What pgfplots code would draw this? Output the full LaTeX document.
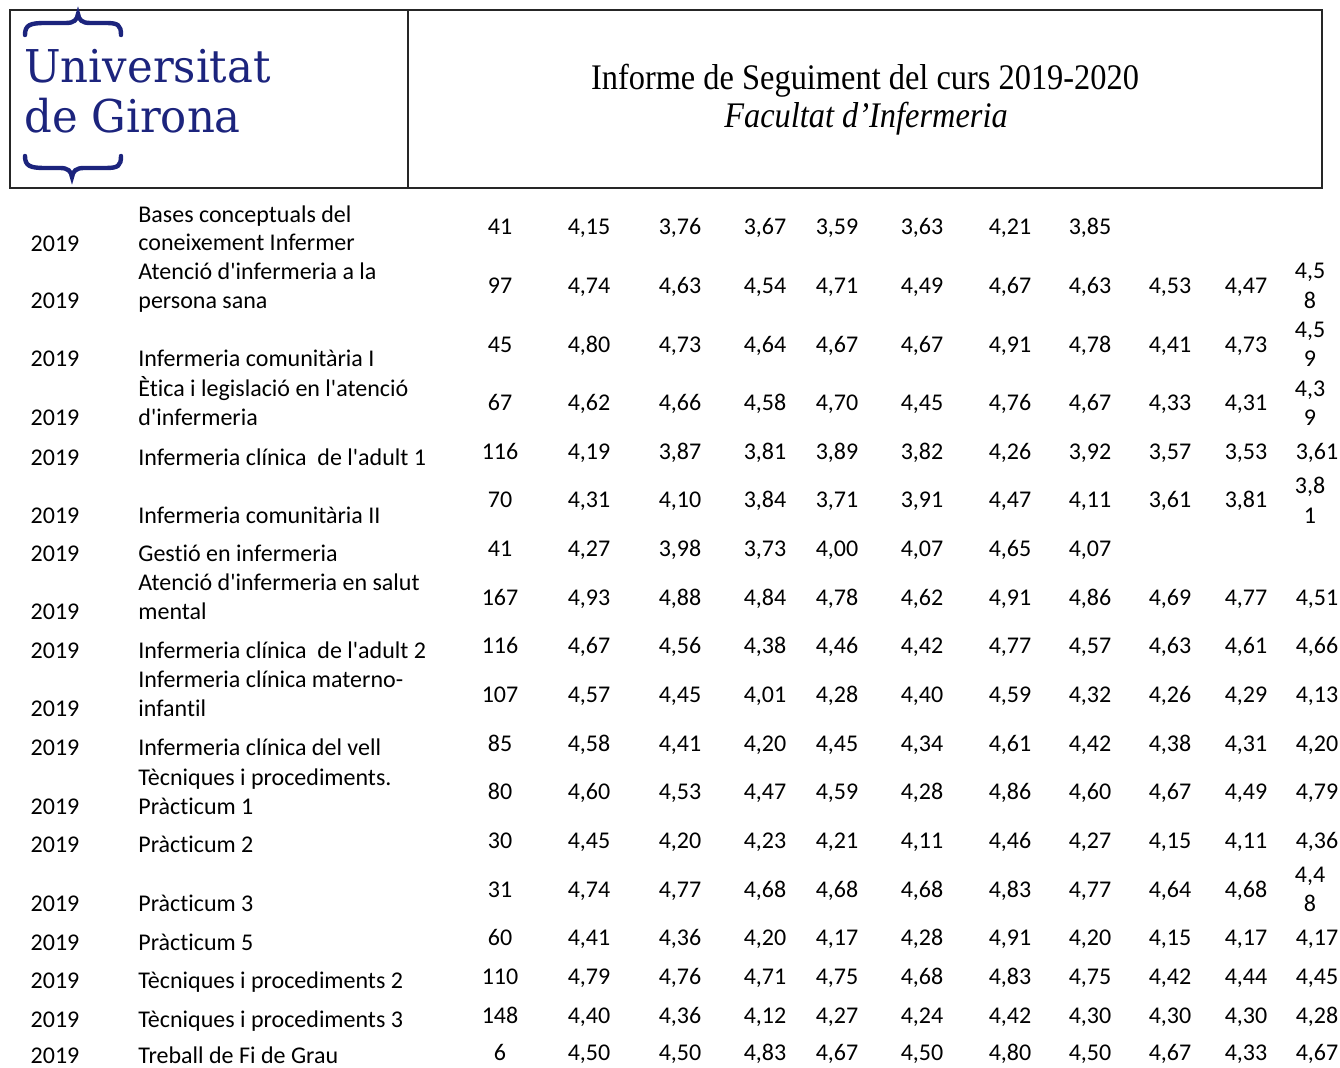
\documentclass[border=0pt]{standalone}
\usepackage{graphicx}
\usepackage{pgfplots}
\pgfplotsset{compat=1.18}
\usepackage{pgfplotstable}
\usepackage{fontspec}
\setmainfont{Liberation Serif}
\newfontfamily\calfont{Carlito}[Ligatures=CommonOff]
\newfontfamily\logofont{DejaVu Serif}
\definecolor{udgblue}{RGB}{28,36,125}
\tikzset{cellfont/.style={font=\calfont\fontsize{12}{14}\selectfont}}

\pgfplotstableread[col sep=space]{
x y t
500 235 41
589 235 4,15
680 235 3,76
765 235 3,67
837 235 3,59
922 235 3,63
1010 235 4,21
1090 235 3,85
500 294 97
589 294 4,74
680 294 4,63
765 294 4,54
837 294 4,71
922 294 4,49
1010 294 4,67
1090 294 4,63
1170 294 4,53
1246 294 4,47
1310 279 4,5
1310 309 8
500 353 45
589 353 4,80
680 353 4,73
765 353 4,64
837 353 4,67
922 353 4,67
1010 353 4,91
1090 353 4,78
1170 353 4,41
1246 353 4,73
1310 338 4,5
1310 367 9
500 411 67
589 411 4,62
680 411 4,66
765 411 4,58
837 411 4,70
922 411 4,45
1010 411 4,76
1090 411 4,67
1170 411 4,33
1246 411 4,31
1310 397 4,3
1310 426 9
500 460 116
589 460 4,19
680 460 3,87
765 460 3,81
837 460 3,89
922 460 3,82
1010 460 4,26
1090 460 3,92
1170 460 3,57
1246 460 3,53
1317 460 3,61
500 508 70
589 508 4,31
680 508 4,10
765 508 3,84
837 508 3,71
922 508 3,91
1010 508 4,47
1090 508 4,11
1170 508 3,61
1246 508 3,81
1310 494 3,8
1310 524 1
500 557 41
589 557 4,27
680 557 3,98
765 557 3,73
837 557 4,00
922 557 4,07
1010 557 4,65
1090 557 4,07
500 606 167
589 606 4,93
680 606 4,88
765 606 4,84
837 606 4,78
922 606 4,62
1010 606 4,91
1090 606 4,86
1170 606 4,69
1246 606 4,77
1317 606 4,51
500 654 116
589 654 4,67
680 654 4,56
765 654 4,38
837 654 4,46
922 654 4,42
1010 654 4,77
1090 654 4,57
1170 654 4,63
1246 654 4,61
1317 654 4,66
500 703 107
589 703 4,57
680 703 4,45
765 703 4,01
837 703 4,28
922 703 4,40
1010 703 4,59
1090 703 4,32
1170 703 4,26
1246 703 4,29
1317 703 4,13
500 752 85
589 752 4,58
680 752 4,41
765 752 4,20
837 752 4,45
922 752 4,34
1010 752 4,61
1090 752 4,42
1170 752 4,38
1246 752 4,31
1317 752 4,20
500 800 80
589 800 4,60
680 800 4,53
765 800 4,47
837 800 4,59
922 800 4,28
1010 800 4,86
1090 800 4,60
1170 800 4,67
1246 800 4,49
1317 800 4,79
500 849 30
589 849 4,45
680 849 4,20
765 849 4,23
837 849 4,21
922 849 4,11
1010 849 4,46
1090 849 4,27
1170 849 4,15
1246 849 4,11
1317 849 4,36
500 898 31
589 898 4,74
680 898 4,77
765 898 4,68
837 898 4,68
922 898 4,68
1010 898 4,83
1090 898 4,77
1170 898 4,64
1246 898 4,68
1310 883 4,4
1310 912 8
500 946 60
589 946 4,41
680 946 4,36
765 946 4,20
837 946 4,17
922 946 4,28
1010 946 4,91
1090 946 4,20
1170 946 4,15
1246 946 4,17
1317 946 4,17
500 985 110
589 985 4,79
680 985 4,76
765 985 4,71
837 985 4,75
922 985 4,68
1010 985 4,83
1090 985 4,75
1170 985 4,42
1246 985 4,44
1317 985 4,45
500 1024 148
589 1024 4,40
680 1024 4,36
765 1024 4,12
837 1024 4,27
922 1024 4,24
1010 1024 4,42
1090 1024 4,30
1170 1024 4,30
1246 1024 4,30
1317 1024 4,28
500 1061 6
589 1061 4,50
680 1061 4,50
765 1061 4,83
837 1061 4,67
922 1061 4,50
1010 1061 4,80
1090 1061 4,50
1170 1061 4,67
1246 1061 4,33
1317 1061 4,67
}\nums

\pgfplotstableread[col sep=space]{
x y t
55 252 2019
55 309 2019
55 367 2019
55 426 2019
55 466 2019
55 524 2019
55 562 2019
55 620 2019
55 659 2019
55 717 2019
55 756 2019
55 815 2019
55 853 2019
55 912 2019
55 951 2019
55 989 2019
55 1028 2019
55 1064 2019
}\years

\pgfplotstableread[col sep=semicolon]{
x;y;t
138;223;Bases conceptuals del
138;251;coneixement Infermer
138;280;Atenció d'infermeria a la
138;309;persona sana
138;367;Infermeria comunitària I
138;397;Ètica i legislació en l'atenció
138;426;d'infermeria
138;466;Infermeria clínica~~de l'adult 1
138;524;Infermeria comunitària II
138;562;Gestió en infermeria
138;591;Atenció d'infermeria en salut
138;620;mental
138;659;Infermeria clínica~~de l'adult 2
138;688;Infermeria clínica materno-
138;717;infantil
138;756;Infermeria clínica del vell
138;786;Tècniques i procediments.
138;815;Pràcticum 1
138;853;Pràcticum 2
138;912;Pràcticum 3
138;951;Pràcticum 5
138;989;Tècniques i procediments 2
138;1028;Tècniques i procediments 3
138;1064;Treball de Fi de Grau
}\names

\begin{document}
\begin{tikzpicture}
\begin{axis}[
  scale only axis, width=670pt, height=534pt,
  xmin=0, xmax=1340, ymin=0, ymax=1068, y dir=reverse,
  hide axis, clip=false,
]
% header box
\draw[line width=0.8pt, black!85] (axis cs:10,10) rectangle (axis cs:1322,188);
\draw[line width=0.8pt, black!85] (axis cs:408,10) -- (axis cs:408,188);
% logo braces
\draw[udgblue, line width=2.2pt, line cap=round]
  (axis cs:25,35) .. controls (axis cs:25,25) and (axis cs:30,23) .. (axis cs:45,23)
  -- (axis cs:66,23) .. controls (axis cs:74,23) and (axis cs:77,20) .. (axis cs:78,14)
  .. controls (axis cs:79,20) and (axis cs:82,23) .. (axis cs:90,23)
  -- (axis cs:106,23) .. controls (axis cs:118,23) and (axis cs:121,25) .. (axis cs:121,35);
\draw[udgblue, line width=2.2pt, line cap=round]
  (axis cs:25,156) .. controls (axis cs:25,166) and (axis cs:30,168) .. (axis cs:45,168)
  -- (axis cs:60,168) .. controls (axis cs:68,168) and (axis cs:71,171) .. (axis cs:72,177)
  .. controls (axis cs:73,171) and (axis cs:76,168) .. (axis cs:84,168)
  -- (axis cs:106,168) .. controls (axis cs:118,168) and (axis cs:121,166) .. (axis cs:121,156);
\node[anchor=base west, inner sep=0pt, text=udgblue, font=\logofont\fontsize{22.6}{26}\selectfont]
  at (axis cs:24,83) {\scalebox{0.96}[1]{Universitat}};
\node[anchor=base west, inner sep=0pt, text=udgblue, font=\logofont\fontsize{22.6}{26}\selectfont]
  at (axis cs:24,133) {\scalebox{0.96}[1]{de Girona}};
% title
\node[anchor=base, inner sep=0pt, font=\fontsize{18}{20}\selectfont]
  at (axis cs:865,90) {\scalebox{0.9}[1]{Informe de Seguiment del curs 2019-2020}};
\node[anchor=base, inner sep=0pt, font=\itshape\fontsize{18}{20}\selectfont]
  at (axis cs:866,128) {\scalebox{0.9}[1]{Facultat d’Infermeria}};
% table cells
\addplot[only marks, mark=none, nodes near coords, point meta=explicit symbolic,
  nodes near coords align=center,
  every node near coord/.append style={cellfont, anchor=base, inner sep=0pt}]
  table[x=x, y=y, meta=t] {\nums};
\addplot[only marks, mark=none, nodes near coords, point meta=explicit symbolic,
  nodes near coords align=center,
  every node near coord/.append style={cellfont, anchor=base, inner sep=0pt}]
  table[x=x, y=y, meta=t] {\years};
\addplot[only marks, mark=none, nodes near coords, point meta=explicit symbolic,
  nodes near coords align=center,
  every node near coord/.append style={cellfont, anchor=base west, inner sep=0pt}]
  table[x=x, y=y, meta=t] {\names};
\end{axis}
\pgfresetboundingbox
\useasboundingbox (0,0) rectangle (670pt,534pt);
\end{tikzpicture}
\end{document}
